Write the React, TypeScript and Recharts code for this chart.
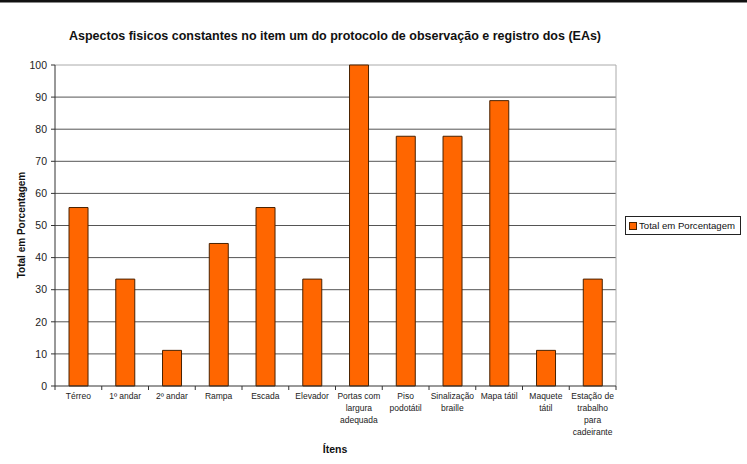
import React from "react";
import { BarChart, Bar, XAxis, YAxis, CartesianGrid } from "recharts";

const categories = [
  "Térreo",
  "1º andar",
  "2º andar",
  "Rampa",
  "Escada",
  "Elevador",
  "Portas com\nlargura\nadequada",
  "Piso\npodotátil",
  "Sinalização\nbraille",
  "Mapa tátil",
  "Maquete\ntátil",
  "Estação de\ntrabalho\npara\ncadeirante",
];
const values = [55.6, 33.3, 11.1, 44.4, 55.6, 33.3, 100, 77.8, 77.8, 88.9, 11.1, 33.3];
const yTicks = [0, 10, 20, 30, 40, 50, 60, 70, 80, 90, 100];
const seriesName = "Total em Porcentagem";
const title = "Aspectos fisicos constantes no item um do protocolo de observação e registro dos (EAs)";
const xTitle = "Ítens";
const yTitle = "Total em Porcentagem";

const data = categories.map((c, i) => ({ name: c, value: values[i] }));

const W = 747;
const H = 464;
const LEFT = 55;
const RIGHT = 131;
const TOP = 65;
const BOTTOM = 78;
const PLOT_W = W - LEFT - RIGHT;
const STEP = PLOT_W / categories.length;
const FONT = "'Liberation Sans', Arial, sans-serif";

const XTick = (props: any) => {
  const { x, y, payload, index } = props;
  const half = payload && payload.offset ? payload.offset : STEP / 2;
  const lines = String(payload.value).split("\n");
  return (
    <g>
      <line x1={x - half} y1={y - 8} x2={x - half} y2={y - 4} stroke="#333" />
      {index === categories.length - 1 && (
        <line x1={x + half} y1={y - 8} x2={x + half} y2={y - 4} stroke="#333" />
      )}
      <text x={x} y={y + 5} textAnchor="middle" fontSize={8.5} fill="#222" fontFamily={FONT}>
        {lines.map((l, i) => (
          <tspan key={i} x={x} dy={i === 0 ? 0 : 12}>
            {l}
          </tspan>
        ))}
      </text>
    </g>
  );
};

export default function App() {
  return (
    <div style={{ position: "absolute", left: 0, top: 0, width: W, height: H, background: "#fff", fontFamily: FONT }}>
      <div style={{ position: "absolute", left: 0, top: 0, width: W, height: 2, background: "#111", borderBottom: "1px solid #888" }} />
      <BarChart
        width={W}
        height={H}
        data={data}
        margin={{ top: TOP, right: RIGHT, bottom: 0, left: 0 }}
        barCategoryGap="30%"
      >
        <text x={335} y={40} textAnchor="middle" fontSize={12.5} fontWeight="bold" fill="#111" fontFamily={FONT}>
          {title}
        </text>
        <text x={335} y={453} textAnchor="middle" fontSize={10.5} fontWeight="bold" fill="#111" fontFamily={FONT}>
          {xTitle}
        </text>
        <text
          x={25}
          y={225}
          textAnchor="middle"
          fontSize={10}
          fontWeight="bold"
          fill="#111"
          fontFamily={FONT}
          transform="rotate(-90 25 225)"
        >
          {yTitle}
        </text>
        <CartesianGrid
          vertical={false}
          stroke="#555"
          strokeWidth={1}
          horizontalCoordinatesGenerator={({ offset }: any) =>
            yTicks
              .filter((t) => t > 0 && t < 100)
              .map((t) => offset.top + offset.height * (1 - t / 100))
          }
        />
        <CartesianGrid
          stroke="#aaa"
          strokeWidth={1}
          horizontalCoordinatesGenerator={({ offset }: any) => [offset.top]}
          verticalCoordinatesGenerator={({ offset }: any) => [offset.left + offset.width]}
        />
        <XAxis
          dataKey="name"
          height={BOTTOM}
          interval={0}
          tickLine={false}
          axisLine={{ stroke: "#333" }}
          tick={<XTick />}
        />
        <YAxis
          width={LEFT}
          domain={[0, 100]}
          ticks={yTicks}
          interval={0}
          tickSize={4}
          tickLine={{ stroke: "#333" }}
          axisLine={{ stroke: "#333" }}
          tick={{ fontSize: 10.5, fill: "#222", fontFamily: FONT, dx: -2 }}
        />
        <Bar dataKey="value" fill="#FF6600" stroke="#4a2200" strokeWidth={1} isAnimationActive={false} />
      </BarChart>
      <div
        style={{
          position: "absolute",
          left: 625,
          top: 216,
          width: 116,
          height: 19,
          border: "1px solid #222",
          boxSizing: "border-box",
          display: "flex",
          alignItems: "center",
          fontSize: 9.6,
          color: "#111",
          whiteSpace: "nowrap",
        }}
      >
        <span
          style={{
            display: "inline-block",
            width: 6,
            height: 6,
            background: "#FF6600",
            border: "1px solid #4a2200",
            marginLeft: 3,
            marginRight: 2,
          }}
        />
        {seriesName}
      </div>
    </div>
  );
}
